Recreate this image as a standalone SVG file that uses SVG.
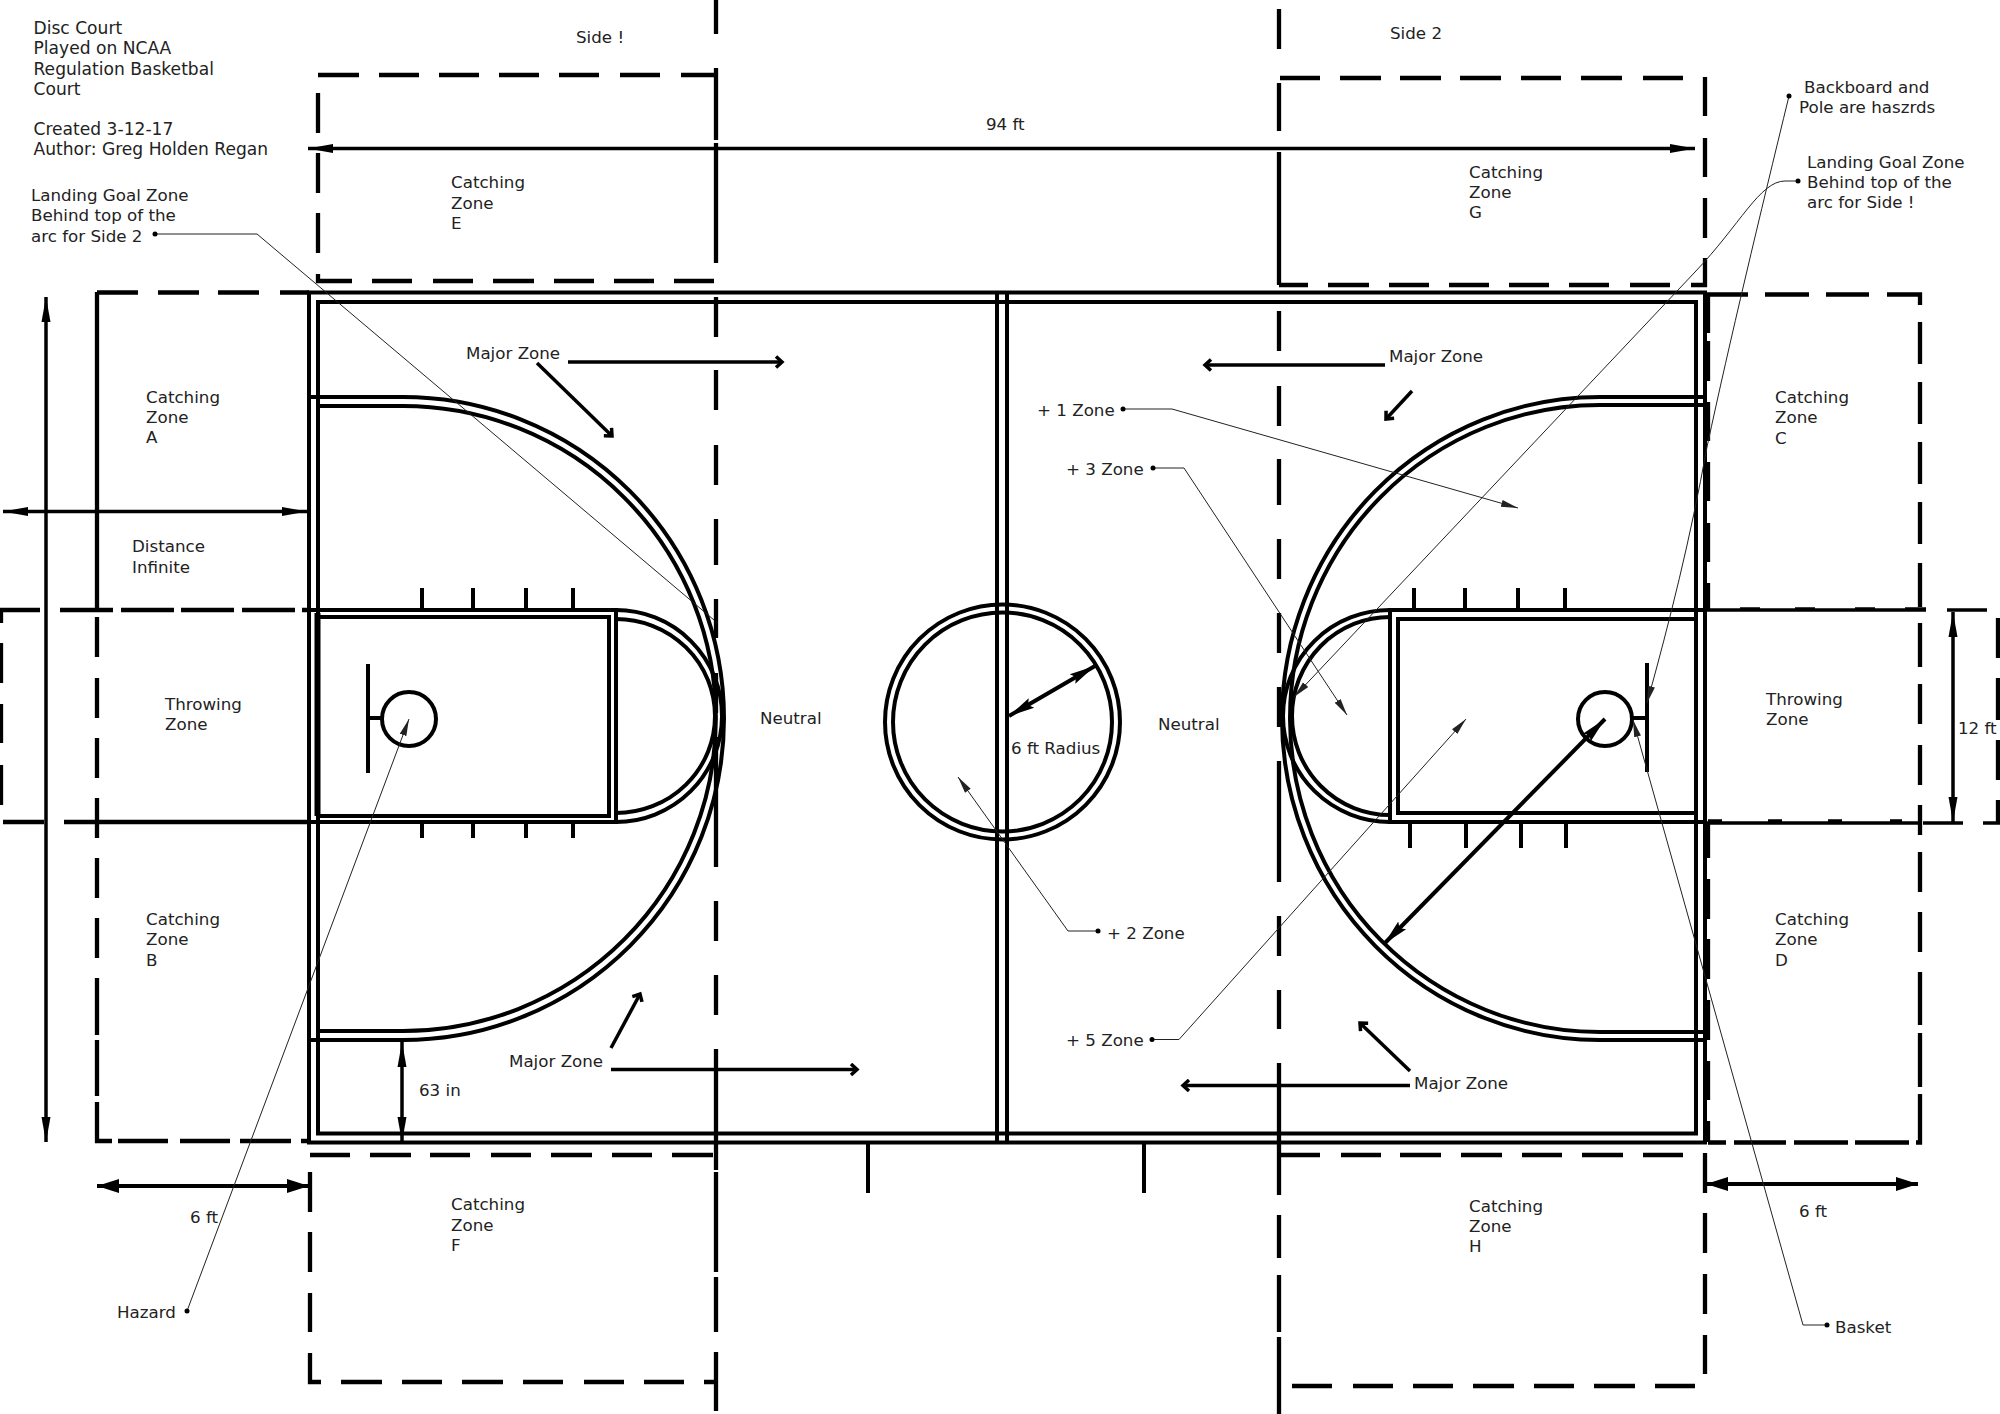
<svg xmlns="http://www.w3.org/2000/svg" width="2000" height="1414" viewBox="0 0 2000 1414">
<style>
text{font-family:"DejaVu Sans",Verdana,sans-serif;font-size:16.7px;fill:#222}
.h{font-size:17.1px}
.l{fill:none;stroke:#000;stroke-width:4}
.d{fill:none;stroke:#000;stroke-width:4.3}
.a{fill:none;stroke:#000;stroke-width:3.5}
.t{fill:none;stroke:#222;stroke-width:1}
.dot{fill:#000}
</style>
<defs>
<marker id="big" markerUnits="userSpaceOnUse" markerWidth="26" markerHeight="12" refX="25" refY="6" orient="auto-start-reverse"><path d="M0,1.5L25,6L0,10.500Z"/></marker>
<marker id="wide" markerUnits="userSpaceOnUse" markerWidth="23" markerHeight="16" refX="22" refY="8" orient="auto-start-reverse"><path d="M0,1L22,8L0,15Z"/></marker>
<marker id="rad" markerUnits="userSpaceOnUse" markerWidth="27" markerHeight="14" refX="26" refY="7" orient="auto-start-reverse"><path d="M0,1.500L26,7L0,12.500L4,7Z"/></marker>
<marker id="open" markerUnits="userSpaceOnUse" markerWidth="12" markerHeight="14" refX="9" refY="7" orient="auto"><path d="M3,1.500L9,7L3,12.500" fill="none" stroke="#000" stroke-width="3.500"/></marker>
<marker id="thin" markerUnits="userSpaceOnUse" markerWidth="18" markerHeight="10" refX="17" refY="5" orient="auto"><path d="M0,1.500L17,5L0,8.500Z" fill="#222"/></marker>
</defs>
<rect width="2000" height="1414" fill="#fff"/>

<g id="zones">
<path class="d" d="M716 0V34M716 68V140M716 143V263M716 297V337M716 370V410M716 445V485M716 519V565M716 599V638M716 673V713M716 737V867M716 901V941M716 975V1015M716 1049V1170M716 1172V1272M716 1277V1332M716 1352V1411"/>
<path class="d" d="M1279 9V49M1279 83V131M1279 152V285M1279 311V351M1279 386V426M1279 459V505M1279 539V579M1279 613V653M1279 687V727M1279 761V882M1279 916V956M1279 990V1029M1279 1063V1195M1279 1215V1258M1279 1275V1332M1279 1337V1414"/>
<path class="d" id="zone-e" d="M318 75H359M379 75H419M439 75H479M499 75H539M559 75H599M620 75H660M681 75H716M318 93V133M318 153V193M318 213V253M318 274V281H352M372 281H412M433 281H473M493 281H534M554 281H594M614 281H654M674 281H714"/>
<path class="d" id="zone-g" d="M1280 78H1320M1340 78H1381M1400 78H1441M1460 78H1501M1521 78H1561M1581 78H1622M1643 78H1683M1705 77V116M1705 138V177M1705 198V238M1705 258V285H1691M1670 285H1630M1609 285H1569M1549 285H1509M1489 285H1449M1429 285H1389M1369 285H1328M1308 285H1279"/>
<path class="d" id="zone-f" d="M310 1155H350M370 1155H411M430 1155H470M491 1155H531M551 1155H592M612 1155H652M672 1155H713M310 1172V1212M310 1232V1272M310 1293V1332M310 1353V1382H321M341 1382H382M402 1382H442M462 1382H503M523 1382H563M584 1382H624M644 1382H684M704 1382H716"/>
<path class="d" id="zone-h" d="M1281 1155H1320M1341 1155H1381M1400 1155H1441M1461 1155H1502M1522 1155H1562M1582 1155H1623M1643 1155H1683M1705 1153V1193M1705 1213V1253M1705 1274V1314M1705 1335V1374M1695 1386H1655M1635 1386H1594M1574 1386H1534M1514 1386H1473M1453 1386H1413M1393 1386H1353M1332 1386H1292"/>
<path class="d" id="zone-ab" d="M97 292.500H138M158 292.500H199M218 292.500H259M280 292.500H309M97 292V610M97 617V657M97 678V718M97 738V778M97 798V838M97 858V898M97 918V958M97 978V1035M97 1040V1096M97 1102V1141H112M118 1141H168M180 1141H230M240 1141H291M301 1141H309"/>
<path class="d" id="zone-cd" d="M1708 294V333M1708 341V381M1708 402V441M1708 462V501M1708 523V562M1708 583V610M1708 823V858M1708 879V919M1708 939V979M1708 1000V1040M1708 1061V1100M1708 1121V1142M1705 294.500H1748M1765 294.500H1809M1826 294.500H1869M1887 294.500H1920V305M1920 322V364M1920 382V424M1920 442V484M1920 502V544M1920 563V607M1920 623V667M1920 684V724M1920 745V785M1920 805V835M1920 852V892M1920 912V952M1920 972V1025M1920 1033V1087M1920 1094V1142.500H1916M1909 1142.500H1855M1848 1142.500H1794M1786 1142.500H1734M1726 1142.500H1708"/>
<path class="d" id="zone-throw" d="M0 610H40M60 610H113M121 610H174M181 610H234M242 610H295M302 610H309M3 822H44M64 822H309M1 610V623M1 643V683M1 704V743M1 765V805M1998 618V658M1998 678V720M1998 740V780M1998 800V822"/>
<path id="zone-throw-right" fill="none" stroke="#000" stroke-width="3.500" d="M1705 610H1926M1947 610H1987M1705 823H1920M1923 823H1963M1983 823H2000M1708 821H1722M1768 821H1782M1828 821H1842M1890 821H1902M1740 609H1760M1795 609H1815M1855 609H1875M1905 609H1926"/>
</g>

<g id="court">
<rect class="l" x="309" y="292.500" width="1396" height="850"/>
<rect class="l" x="318" y="302" width="1378" height="831.500"/>
<path class="l" d="M997 292V1142M1007 292V1142"/>
<path class="l" d="M868 1142V1193M1144 1142V1193"/>
<circle class="l" cx="1002.500" cy="722" r="117.500"/>
<circle class="l" cx="1002.500" cy="722" r="109.500"/>
<g id="left-end">
<path class="l" d="M309 610H616V822H309"/>
<rect class="l" x="318" y="617" width="291" height="199"/>
<path d="M317.500 613V816" fill="none" stroke="#000" stroke-width="6"/>
<path class="l" d="M616 610A106 106 0 0 1 616 822"/>
<path class="l" d="M616 619A99 97 0 0 1 616 813"/>
<path class="l" d="M309 397H403A321 321.500 0 0 1 403 1040H309"/>
<path class="l" d="M318 406H403A313 312.500 0 0 1 403 1031H318"/>
<path class="l" d="M422 588V610M473 588V610M526 588V610M573 588V610M422 822V838M473 822V838M526 822V838M573 822V838"/>
<circle class="l" cx="409" cy="719" r="27"/>
<path class="l" d="M368 664V773M368 718H382"/>
</g>
<g id="right-end">
<path class="l" d="M1705 610H1390V822H1705"/>
<rect class="l" x="1398" y="619" width="298" height="194"/>
<path class="l" d="M1390 610A107 106 0 0 0 1390 822"/>
<path class="l" d="M1390 617A98 99 0 0 0 1390 815"/>
<path class="l" d="M1705 397H1600A318 321.500 0 0 0 1600 1040H1705"/>
<path class="l" d="M1705 405H1600A310 313.500 0 0 0 1600 1032H1705"/>
<path class="l" d="M1414 588V610M1465 588V610M1518 588V610M1565 588V610M1410 822V848M1466 822V848M1521 822V848M1566 822V848"/>
<circle class="l" cx="1605" cy="719" r="27"/>
<path class="l" d="M1647 663V772M1632 718H1647"/>
</g>
</g>

<g id="connectors">
<path class="a" d="M308 148.500H1695" marker-start="url(#big)" marker-end="url(#big)"/>
<path class="a" d="M46 297V1142" marker-start="url(#big)" marker-end="url(#big)"/>
<path class="a" d="M3 511.500H307" marker-start="url(#big)" marker-end="url(#big)"/>
<path class="a" d="M402 1042V1142" marker-start="url(#big)" marker-end="url(#big)"/>
<path class="a" d="M1953 612V822" marker-start="url(#big)" marker-end="url(#big)"/>
<path class="l" d="M97 1186H309" marker-start="url(#wide)" marker-end="url(#wide)"/>
<path class="l" d="M1706 1184H1918" marker-start="url(#wide)" marker-end="url(#wide)"/>
<path class="l" d="M1009 716L1095 666" marker-start="url(#rad)" marker-end="url(#rad)"/>
<path class="l" d="M1384 944L1605 719" marker-start="url(#rad)" marker-end="url(#rad)"/>
<path class="a" d="M568 362H782" marker-end="url(#open)"/>
<path class="a" d="M537 363L612 436" marker-end="url(#open)"/>
<path class="a" d="M1385 365H1205" marker-end="url(#open)"/>
<path class="a" d="M1412 391L1386 419" marker-end="url(#open)"/>
<path class="a" d="M611 1069.500H857" marker-end="url(#open)"/>
<path class="a" d="M611 1048L640 994" marker-end="url(#open)"/>
<path class="a" d="M1410 1085.500H1183" marker-end="url(#open)"/>
<path class="a" d="M1410 1071L1360 1023" marker-end="url(#open)"/>
<path class="t" d="M155 234H257L714 620"/>
<path class="t" d="M1798 181H1785C1760 181 1740 225 1695 272L1294 697" marker-end="url(#thin)"/>
<path class="t" d="M1789 96C1760 215 1730 340 1707 447C1690 540 1670 620 1647 703" marker-end="url(#thin)"/>
<path class="t" d="M1827 1325H1803L1633 720" marker-end="url(#thin)"/>
<path class="t" d="M1123 409H1172L1518 508" marker-end="url(#thin)"/>
<path class="t" d="M1153 468H1184L1347 715" marker-end="url(#thin)"/>
<path class="t" d="M1098 931H1068L958 777" marker-end="url(#thin)"/>
<path class="t" d="M1152 1039.500H1179L1466 719" marker-end="url(#thin)"/>
<path class="t" d="M187 1311L409 719" marker-end="url(#thin)"/>
<g class="dot">
<circle cx="155" cy="234" r="2.500"/><circle cx="1798" cy="181" r="2.500"/><circle cx="1789" cy="96" r="2.500"/><circle cx="1827" cy="1325" r="2.500"/><circle cx="1123" cy="409" r="2.500"/><circle cx="1153" cy="468" r="2.500"/><circle cx="1098" cy="931" r="2.500"/><circle cx="1152" cy="1039.500" r="2.500"/><circle cx="187" cy="1311" r="2.500"/>
</g>
</g>

<g id="labels">
<text class="h" x="33.500" y="34">Disc Court</text>
<text class="h" x="33.500" y="54">Played on NCAA</text>
<text class="h" x="33.500" y="74.500">Regulation Basketbal</text>
<text class="h" x="33.500" y="94.500">Court</text>
<text class="h" x="33.500" y="135">Created 3-12-17</text>
<text class="h" x="33.500" y="155">Author: Greg Holden Regan</text>
<text x="31" y="201">Landing Goal Zone</text>
<text x="31" y="221">Behind top of the</text>
<text x="31" y="242">arc for Side 2</text>
<text x="576" y="43">Side !</text>
<text x="1390" y="39">Side 2</text>
<text x="986" y="130">94 ft</text>
<text x="451" y="188">Catching</text><text x="451" y="209">Zone</text><text x="451" y="229">E</text>
<text x="1469" y="178">Catching</text><text x="1469" y="198">Zone</text><text x="1469" y="218">G</text>
<text x="146" y="403">Catching</text><text x="146" y="423">Zone</text><text x="146" y="443">A</text>
<text x="146" y="925">Catching</text><text x="146" y="945">Zone</text><text x="146" y="966">B</text>
<text x="1775" y="403">Catching</text><text x="1775" y="423">Zone</text><text x="1775" y="444">C</text>
<text x="1775" y="925">Catching</text><text x="1775" y="945">Zone</text><text x="1775" y="966">D</text>
<text x="451" y="1210">Catching</text><text x="451" y="1231">Zone</text><text x="451" y="1251">F</text>
<text x="1469" y="1212">Catching</text><text x="1469" y="1232">Zone</text><text x="1469" y="1252">H</text>
<text x="132" y="552">Distance</text><text x="132" y="572.500">Infinite</text>
<text x="165" y="710">Throwing</text><text x="165" y="730">Zone</text>
<text x="1766" y="704.500">Throwing</text><text x="1766" y="725">Zone</text>
<text x="760" y="723.500">Neutral</text>
<text x="1158" y="729.500">Neutral</text>
<text x="1011" y="754">6 ft Radius</text>
<text x="466" y="359">Major Zone</text>
<text x="1389" y="362">Major Zone</text>
<text x="509" y="1066.500">Major Zone</text>
<text x="1414" y="1089">Major Zone</text>
<text x="1037" y="416">+ 1 Zone</text>
<text x="1066" y="475">+ 3 Zone</text>
<text x="1107" y="938.500">+ 2 Zone</text>
<text x="1066" y="1046">+ 5 Zone</text>
<text x="1804" y="93">Backboard and</text><text x="1799" y="113">Pole are haszrds</text>
<text x="1807" y="168">Landing Goal Zone</text><text x="1807" y="188">Behind top of the</text><text x="1807" y="208">arc for Side !</text>
<text x="1958" y="734">12 ft</text>
<text x="419" y="1095.500">63 in</text>
<text x="190" y="1222.500">6 ft</text>
<text x="1799" y="1216.500">6 ft</text>
<text x="117" y="1318">Hazard</text>
<text x="1835" y="1333">Basket</text>
</g>
</svg>
